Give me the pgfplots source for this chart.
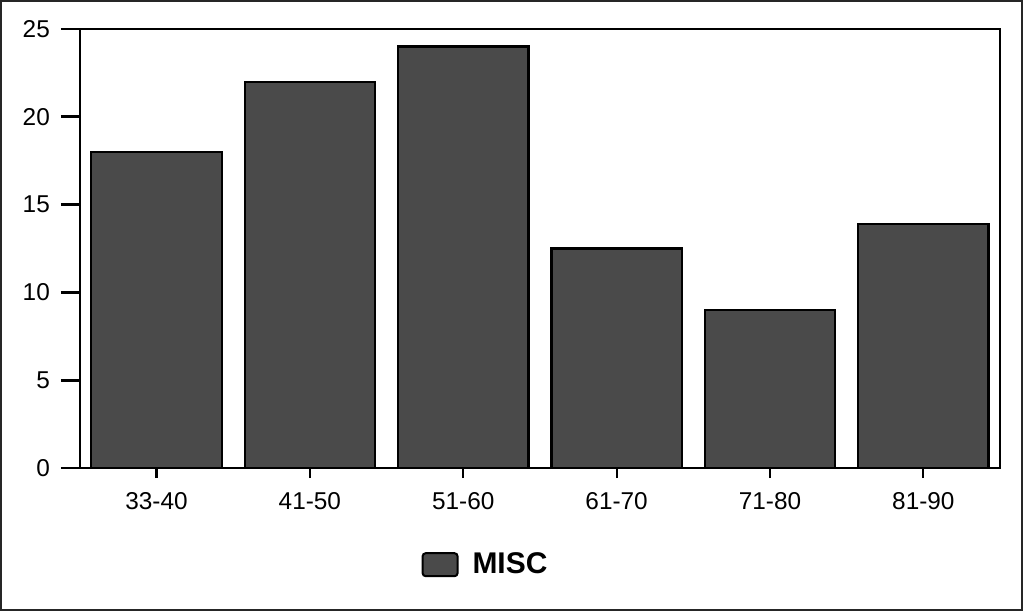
\documentclass[border=0pt]{standalone}
\usepackage{fontspec}
\setmainfont{Liberation Sans}
\usepackage{pgfplots}
\pgfplotsset{compat=1.18}
\definecolor{barfill}{RGB}{74,74,74}
\begin{document}
\begin{tikzpicture}
  % outer frame of the figure (1023 x 610 px, 0.5pt per px)
  \draw[line width=1pt, black!85] (0pt,0pt) rectangle (511.5pt,305pt);
  \begin{axis}[
    at={(39.5pt,71pt)}, anchor=south west,
    scale only axis, width=461pt, height=220pt,
    xmin=-0.5, xmax=5.5, ymin=0, ymax=25,
    axis line style={line width=1.1pt},
    xtick={0,1,2,3,4,5},
    xticklabels={33-40,41-50,51-60,61-70,71-80,81-90},
    ytick={0,5,10,15,20,25},
    xtick pos=lower, ytick pos=left,
    tick align=outside,
    major tick length=9.5pt,
    x tick style={line width=1.1pt, black, /pgfplots/major tick length=5pt},
    y tick style={line width=1.3pt, black},
    tick label style={font=\fontsize{12.2}{14}\selectfont},
    /pgf/number format/assume math mode=true,
    xticklabel style={yshift=1pt},
    yticklabel style={xshift=-2pt},
    ybar, bar width=0.85,
    legend style={at={(0.371,-0.22)}, anchor=west, draw=none, fill=none,
      inner sep=0pt, font=\fontsize{15}{18}\selectfont\bfseries,
      legend cell align=left,
      /tikz/every odd column/.append style={column sep=5pt}},
    legend image code/.code={
      \draw[fill=barfill, draw=black, line width=1pt, rounded corners=1.5pt]
        (0pt,-5.75pt) rectangle (17.5pt,5.75pt);},
  ]
    \addplot[fill=barfill, draw=black, line width=1.1pt]
      coordinates {(0,18) (1,22) (2,24) (3,12.5) (4,9) (5,13.9)};
    \addlegendentry{MISC}
  \end{axis}
\end{tikzpicture}
\end{document}
